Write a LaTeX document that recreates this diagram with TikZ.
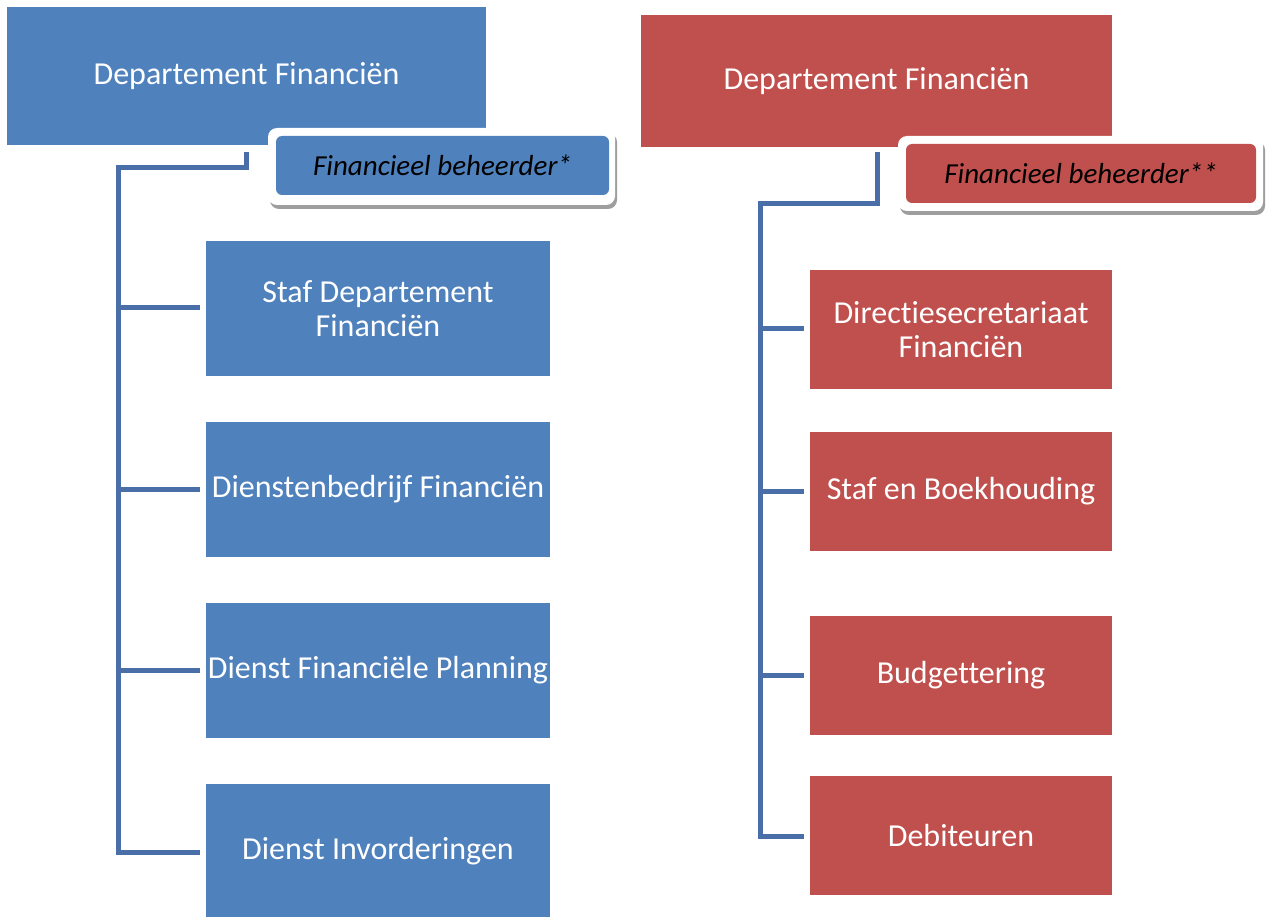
\documentclass[tikz,border=0pt]{standalone}
\usepackage{fontspec}
\setmainfont{Carlito}[Ligatures={NoCommon}]
\definecolor{bfill}{HTML}{4F81BD}
\definecolor{rfill}{HTML}{C0504D}
\definecolor{lnc}{HTML}{4A6FA8}
\tikzset{
  x=1pt,y=-1pt,
  box/.style={draw=none,inner sep=0pt,align=center,text=white,font=\fontsize{32}{34}\selectfont},
  bbox/.style={box,fill=bfill},
  rbox/.style={box,fill=rfill},
  conn/.style={draw=lnc,line width=5pt,shorten >=6pt},
  halo/.style={fill=white,rounded corners=9pt,inner sep=0pt},
  shad/.style={fill=black!38,rounded corners=9pt},
  inner/.style={rounded corners=6pt,inner sep=0pt,text=black,font=\fontsize{29}{32}\selectfont\itshape},
}
\begin{document}
\begin{tikzpicture}
\useasboundingbox (0,0) rectangle (1270,917);
% ---------- left (blue) ----------
\node[bbox,minimum width=479pt,minimum height=138pt] (lt) at (246.5,76) {Departement Financiën};
\fill[shad] (270,133) rectangle (617,209);
\fill[halo] (268,128) rectangle (615,205);
\node[inner,fill=bfill,minimum width=333pt,minimum height=59pt] (lfb) at (442.5,165.5) {Financieel beheerder*};
\node[bbox,minimum width=344pt,minimum height=135pt] (l1) at (378,308.5) {Staf Departement\\Financiën};
\node[bbox,minimum width=344pt,minimum height=135pt] (l2) at (378,489.5) {Dienstenbedrijf Financiën};
\node[bbox,minimum width=344pt,minimum height=135pt] (l3) at (378,670.5) {Dienst Financiële Planning};
\node[bbox,minimum width=344pt,minimum height=135pt] (l4) at (378,851.5) {Dienst Invorderingen};
\coordinate (lj) at (118,168);
\draw[conn] (246,152) |- (lj) -- (118,852) -- (l4.west |- 0,852);
\draw[conn] (118,308) -- (l1.west |- 0,308);
\draw[conn] (118,489) -- (l2.west |- 0,489);
\draw[conn] (118,670) -- (l3.west |- 0,670);
% ---------- right (red) ----------
\node[rbox,minimum width=471pt,minimum height=132pt] (rt) at (876.5,81) {Departement Financiën};
\fill[shad] (900,141) rectangle (1265,215);
\fill[halo] (898,136) rectangle (1263,211);
\node[inner,fill=rfill,minimum width=350pt,minimum height=59pt] (rfb) at (1081,173.5) {Financieel beheerder**};
\node[rbox,minimum width=302pt,minimum height=119pt] (r1) at (961,329.5) {Directiesecretariaat\\Financiën};
\node[rbox,minimum width=302pt,minimum height=119pt] (r2) at (961,491.5) {Staf en Boekhouding};
\node[rbox,minimum width=302pt,minimum height=119pt] (r3) at (961,675.5) {Budgettering};
\node[rbox,minimum width=302pt,minimum height=119pt] (r4) at (961,835.5) {Debiteuren};
\coordinate (rj) at (760,204);
\draw[conn] (877,152) |- (rj) -- (760,836) -- (r4.west |- 0,836);
\draw[conn] (760,329) -- (r1.west |- 0,329);
\draw[conn] (760,491) -- (r2.west |- 0,491);
\draw[conn] (760,675) -- (r3.west |- 0,675);
\end{tikzpicture}
\end{document}
